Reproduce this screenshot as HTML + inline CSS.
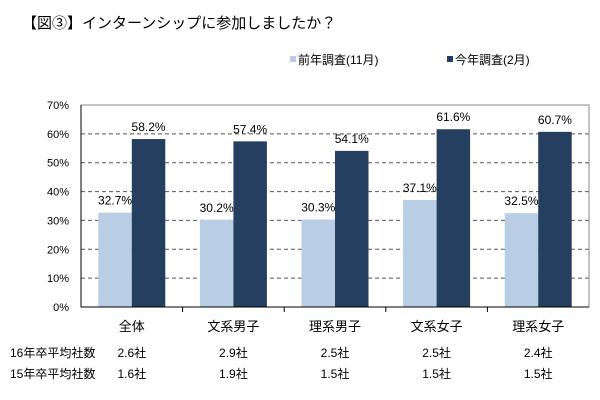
<!DOCTYPE html>
<html><head><meta charset="utf-8"><style>
body{margin:0;background:#fff;}
svg{display:block;font-family:"Liberation Sans","Noto Sans CJK JP",sans-serif;}
</style></head><body>
<svg id="c" width="600" height="400">
<text x="22" y="28" font-size="15" fill="#000">【図③】インターンシップに参加しましたか？</text>
<rect x="290" y="56" width="6" height="6" fill="#b9cde4"/>
<text x="298" y="64" font-size="12">前年調査(11月)</text>
<rect x="447" y="56" width="6" height="6" fill="#243f60"/>
<text x="455" y="64" font-size="12">今年調査(2月)</text>
<g id="g"></g>
</svg>
<script>
const categories=["全体","文系男子","理系男子","文系女子","理系女子"];
const prevValues=[32.7,30.2,30.3,37.1,32.5];
const currValues=[58.2,57.4,54.1,61.6,60.7];
const yTicks=[0,10,20,30,40,50,60,70];
const row16=["2.6社","2.9社","2.5社","2.5社","2.4社"];
const row15=["1.6社","1.9社","1.5社","1.5社","1.5社"];
const L=81,R=589,T=105,B=307,ymax=70;
const cw=(R-L)/categories.length;
const y=v=>B-(v/ymax)*(B-T);
const xc=i=>L+cw*(i+0.5);
const g=document.getElementById('g');
const NS="http://www.w3.org/2000/svg";
function mk(t,a,txt){const e=document.createElementNS(NS,t);for(const k in a)e.setAttribute(k,a[k]);if(txt!==undefined)e.textContent=txt;g.appendChild(e);return e;}
yTicks.forEach(v=>{
 if(v>0&&v<ymax){const l=mk('line',{x1:L,x2:R,y1:y(v),y2:y(v),stroke:'#555','stroke-dasharray':'4,3','stroke-width':1});
 
 }
 const t=mk('text',{x:L-12,y:y(v)+4,'font-size':11,'text-anchor':'end'},v+'%');
 
 
});
const bw=33.5;
categories.forEach((c,i)=>{
 const cx=xc(i);
 const b1=mk('rect',{x:cx-bw,y:y(prevValues[i]),width:bw,height:B-y(prevValues[i]),fill:'#b9cde4'});
 
 
 const b2=mk('rect',{x:cx,y:y(currValues[i]),width:bw,height:B-y(currValues[i]),fill:'#243f60'});
 
 
 const l1=mk('text',{x:cx-bw/2,y:y(prevValues[i])-8,'font-size':12,'text-anchor':'middle'},prevValues[i].toFixed(1)+'%');
 
 
 const l2=mk('text',{x:cx+bw/2,y:y(currValues[i])-8,'font-size':12,'text-anchor':'middle'},currValues[i].toFixed(1)+'%');
 
 
 const cl=mk('text',{x:cx,y:331,'font-size':13,'text-anchor':'middle'},c);
 
 
 const r1=mk('text',{x:cx,y:357,'font-size':12,'text-anchor':'middle'},row16[i]);
 
 
 const r2=mk('text',{x:cx,y:378,'font-size':12,'text-anchor':'middle'},row15[i]);
 
 
 if(i>0){const tk=mk('line',{x1:L+cw*i,x2:L+cw*i,y1:B,y2:B+5,stroke:'#000'});
 
 }
});
const fr=mk('rect',{x:L,y:T,width:R-L,height:B-T,fill:'none',stroke:'#888'});


const ax=mk('line',{x1:L,x2:L,y1:T,y2:B,stroke:'#000'});


const xa=mk('line',{x1:L,x2:R,y1:B,y2:B,stroke:'#000'});


const h1=mk('text',{x:10,y:357,'font-size':12},'16年卒平均社数');


const h2=mk('text',{x:10,y:378,'font-size':12},'15年卒平均社数');


</script>
</body></html>
